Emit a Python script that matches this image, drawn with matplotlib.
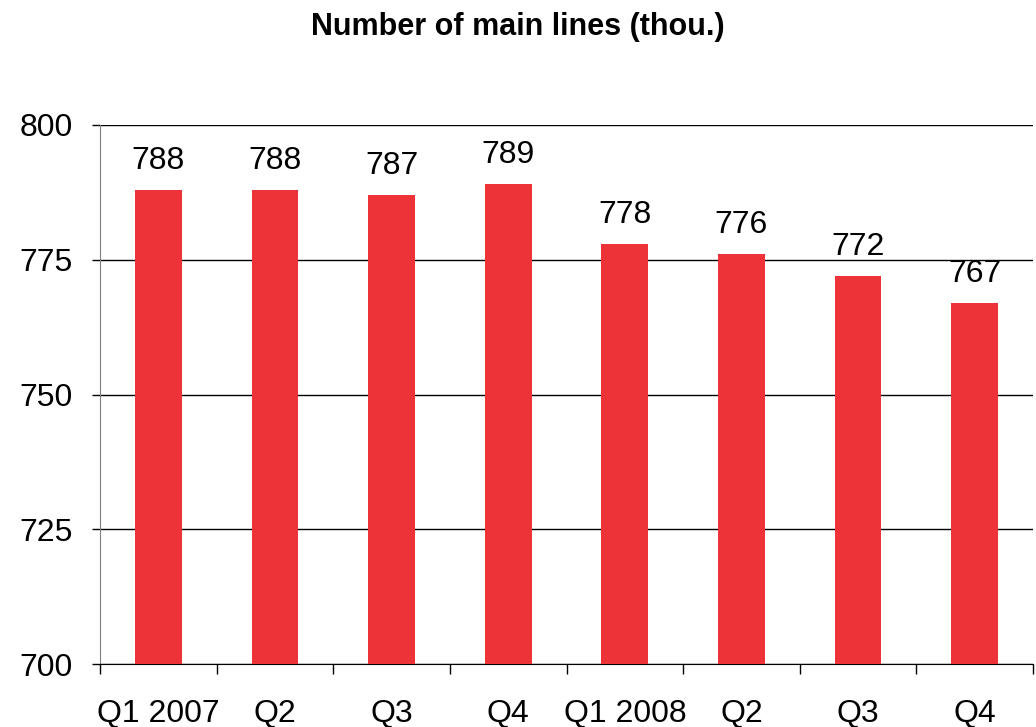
import matplotlib
matplotlib.use("Agg")
import matplotlib.pyplot as plt
import numpy as np

categories = ["Q1 2007", "Q2", "Q3", "Q4", "Q1 2008", "Q2", "Q3", "Q4"]
values = [788, 788, 787, 789, 778, 776, 772, 767]
y_ticks = [700, 725, 750, 775, 800]
title = "Number of main lines (thou.)"

plt.rcParams['font.family'] = ['Liberation Sans', 'DejaVu Sans']

fig = plt.figure(figsize=(10.36, 7.27), dpi=100)
ax = fig.add_axes([100/1036, 1 - 664/727, 933/1036, (664-125)/727])

x = np.arange(len(categories))
ax.bar(x, values, width=0.40, color="#EE3338", zorder=3)

ax.set_xlim(-0.5, len(categories) - 0.5)
ax.set_ylim(700, 800)
ax.set_yticks(y_ticks)
ax.set_yticklabels([str(v) for v in y_ticks], fontsize=23)
ax.yaxis.grid(True, color="black", linewidth=1.0, zorder=0)
ax.tick_params(axis='y', length=5.8, width=1, color="black", pad=14)

ax.set_xticks(x)
ax.set_xticklabels(categories, fontsize=23)
ax.tick_params(axis='x', length=0, pad=25)
ax.set_xticks(np.arange(-0.5, len(categories)), minor=True)
ax.tick_params(axis='x', which='minor', length=7, width=1, color="black")

for s in ["top", "right"]:
    ax.spines[s].set_visible(False)
ax.spines["left"].set_color("#808080")
ax.spines["bottom"].set_color("black")

for xi, v in zip(x, values):
    ax.annotate(str(v), (xi, v), xytext=(0, 10), textcoords="offset points",
                ha="center", va="bottom", fontsize=23)

fig.text(0.5, 1 - 27/727, title, ha="center", va="center", fontsize=22, fontweight="bold")

fig.savefig("out.png", dpi=100)
